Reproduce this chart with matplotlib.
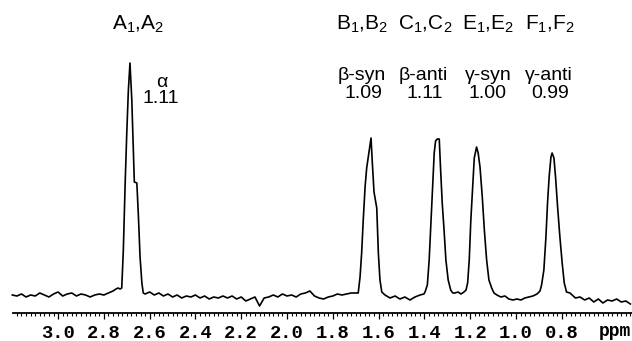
import matplotlib
matplotlib.use("Agg")
import matplotlib.pyplot as plt
from matplotlib.ticker import MultipleLocator, FixedLocator, FixedFormatter

plt.rcParams['font.family'] = ['Liberation Sans', 'DejaVu Sans']
plt.rcParams['mathtext.fontset'] = 'custom'
plt.rcParams['mathtext.rm'] = 'Liberation Sans'
plt.rcParams['mathtext.it'] = 'Liberation Sans:italic'

# ---- data: chemical shift (ppm) and intensity (arbitrary units) ----
ppm = [3.20, 3.18, 3.16, 3.14, 3.12, 3.10, 3.08, 3.06, 3.04, 3.02, 3.00, 2.98, 2.96, 2.94, 2.92, 2.90,
       2.88, 2.86, 2.84, 2.82, 2.80, 2.78, 2.76, 2.747, 2.738, 2.729,
       2.722, 2.715, 2.707, 2.700, 2.693, 2.686, 2.678, 2.671, 2.667, 2.656, 2.649, 2.642, 2.634, 2.628,
       2.62, 2.60, 2.58, 2.56, 2.54, 2.52, 2.50, 2.48, 2.46, 2.44, 2.42, 2.40, 2.38, 2.36, 2.34, 2.32,
       2.30, 2.28, 2.26, 2.24, 2.22, 2.20, 2.18, 2.16, 2.14, 2.12, 2.10, 2.08, 2.06, 2.04, 2.02, 2.00,
       1.98, 1.96, 1.94, 1.92, 1.90, 1.88, 1.86, 1.84, 1.82, 1.80, 1.78, 1.76, 1.74, 1.72, 1.70,
       1.689, 1.681, 1.674, 1.667, 1.659, 1.652, 1.645, 1.633, 1.628, 1.620, 1.608, 1.601, 1.594, 1.586, 1.572,
       1.550, 1.528, 1.507, 1.485, 1.463, 1.441, 1.419, 1.402,
       1.397, 1.387, 1.379, 1.371, 1.364, 1.357, 1.351, 1.344, 1.335, 1.329, 1.322, 1.314, 1.306, 1.296, 1.285, 1.276,
       1.266, 1.253, 1.240, 1.227,
       1.218, 1.211, 1.204, 1.197, 1.189, 1.182, 1.172, 1.165, 1.157, 1.147, 1.138, 1.128, 1.118, 1.106, 1.096,
       1.083, 1.066, 1.048, 1.031, 1.013, 0.996, 0.978, 0.961, 0.943, 0.926, 0.908, 0.895,
       0.888, 0.878, 0.869, 0.862, 0.855, 0.847, 0.842, 0.834, 0.827, 0.818, 0.808, 0.798, 0.789, 0.779, 0.764,
       0.74, 0.72, 0.70, 0.68, 0.66, 0.64, 0.62, 0.60, 0.58, 0.56, 0.54, 0.52, 0.50]
intensity = [2, 1, 3, 0, 2, 1, 4, 2, 0, 3, 5, 1, 3, 4, 1, 3,
             2, 0, 2, 3, 2, 4, 6, 8, 9, 8,
             9, 47, 114, 164, 207, 234, 197, 147, 115, 114, 80, 40, 14, 4,
             3, 5, 2, 4, 1, 3, 0, 2, -1, 1, 0, 2, -1, 1, -2, 0,
             -1, 1, -1, 1, -2, 0, -4, -2, 0, -9, -1, 0, 2, 0, 3, 1,
             2, 0, 3, 4, 6, 1, -1, -2, 0, 1, 3, 2, 3, 4, 4,
             4, 20, 44, 77, 110, 129, 140, 159, 137, 105, 89, 44, 17, 5, 2,
             -1, 1, -2, 0, -3, 0, 2, 3,
             5, 12, 37, 77, 110, 144, 156, 158, 158, 127, 94, 67, 37, 17, 7, 4,
             4, 5, 3, 5,
             7, 14, 37, 77, 110, 139, 150, 144, 130, 100, 67, 37, 17, 9, 4,
             2, 0, 1, -2, -3, -2, -3, -1, 0, 1, 3, 6,
             12, 27, 60, 94, 120, 140, 144, 139, 120, 90, 60, 34, 14, 5, 4,
             -1, 0, -3, -1, -5, -2, -6, -3, -4, -2, -5, -4, -7]

tick_values = [3.0, 2.8, 2.6, 2.4, 2.2, 2.0, 1.8, 1.6, 1.4, 1.2, 1.0, 0.8]
tick_labels = ["3.0", "2.8", "2.6", "2.4", "2.2", "2.0", "1.8", "1.6", "1.4", "1.2", "1.0", "0.8"]

group_labels = [r"A$_1$,A$_2$", r"B$_1$,B$_2$", r"C$_1$,C$_2$", r"E$_1$,E$_2$", r"F$_1$,F$_2$"]
type_labels = ["α", "β-syn", "β-anti", "γ-syn", "γ-anti"]
ratio_labels = ["1.11", "1.09", "1.11", "1.00", "0.99"]

W, H = 632, 341
fig = plt.figure(figsize=(W / 100, H / 100), dpi=100)
ax = fig.add_axes([13 / W, 28 / H, (W - 13) / W, 250 / H])
ax.plot(ppm, intensity, color='black', lw=1.2, clip_on=False)
ax.set_xlim(3.197, 0.493)
ax.set_ylim(-16, 234)

for s in ['top', 'left', 'right']:
    ax.spines[s].set_visible(False)
ax.spines['bottom'].set_linewidth(1.3)
ax.set_yticks([])

ax.xaxis.set_major_locator(FixedLocator(tick_values))
ax.xaxis.set_major_formatter(FixedFormatter(tick_labels))
ax.xaxis.set_minor_locator(MultipleLocator(0.02))
ax.tick_params(axis='x', which='major', length=4.5, width=0.9, pad=4.5,
               labelsize=13.5)
ax.tick_params(axis='x', which='minor', length=2.5, width=0.8)
for lab in ax.get_xticklabels():
    lab.set_fontfamily('Liberation Mono')
    lab.set_fontweight('bold')

fig.text(615 / W, 1 - 336 / H, "ppm", ha='center', va='baseline',
         fontsize=13, fontfamily='Liberation Mono', fontweight='bold')

def P(x, y):
    return x / W, 1 - y / H

group_x = [138, 362, 425, 488, 550]
for gx, g in zip(group_x, group_labels):
    fig.text(*P(gx, 30), g, ha='center', va='baseline', fontsize=15)

type_x = [162, 362, 423, 488, 549]
type_y = [87, 80, 80, 80, 80]
ratio_x = [161, 363, 425, 488, 550]
ratio_y = [103, 98, 98, 98, 98]
for tx, ty, t in zip(type_x, type_y, type_labels):
    fig.text(*P(tx, ty), t, ha='center', va='baseline', fontsize=14)
for rx, ry, r in zip(ratio_x, ratio_y, ratio_labels):
    fig.text(*P(rx, ry), r, ha='center', va='baseline', fontsize=14)

fig.savefig("out.png", dpi=100)
